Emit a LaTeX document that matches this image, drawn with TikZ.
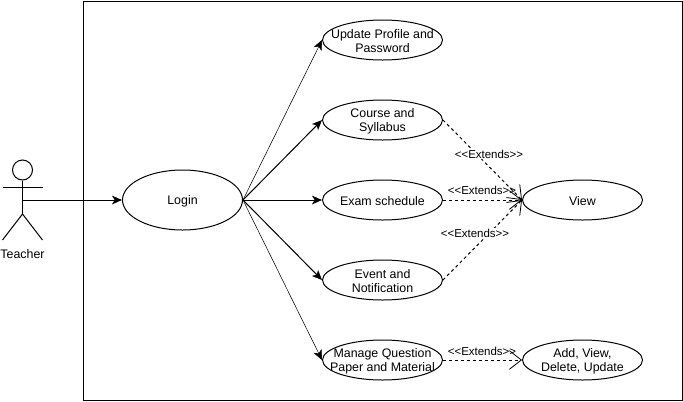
\documentclass[tikz,border=0pt]{standalone}
\usepackage{fontspec}
\setmainfont{Liberation Sans}
\usetikzlibrary{shapes.geometric,arrows.meta}
\tikzset{
  usecase/.style n args={2}{draw,ellipse,line width=0.75pt,minimum width=90pt,minimum height=#1,inner sep=0pt,
    label={[align=center,inner sep=0pt,font=\fontsize{9.3}{10.8}\selectfont,yshift=-1pt]center:#2}},
  assoc/.style={line width=0.75pt,-{Stealth[length=7.5pt,width=6.5pt,inset=2pt]}},
  thinassoc/.style={line width=0.4pt,-{Stealth[length=7.5pt,width=6.5pt,inset=2pt]}},
  ext/.style={line width=0.75pt,dash pattern=on 2.25pt off 2.25pt,-{Straight Barb[length=9pt,width=14pt,line width=0.6pt]}},
  extlabel/.style={fill=white,inner sep=0.5pt,font=\fontsize{8.6}{10}\selectfont},
  actorline/.style={line width=0.75pt}
}
\begin{document}
\begin{tikzpicture}[x=0.75pt,y=-0.75pt]
\useasboundingbox (0,0) rectangle (683,401);
\node[draw,line width=0.75pt,minimum width=449.6pt,minimum height=299.3pt,inner sep=0pt,anchor=north west] (frame) at (82.5,0.5) {};
\node[usecase={45pt}{Login}] (login) at (182.5,200) {};
\node[usecase={30pt}{Update Profile and\\Password}] (update) at (382.5,40) {};
\node[usecase={30pt}{Course and\\Syllabus}] (course) at (382.5,120) {};
\node[usecase={30pt}{Exam schedule}] (exam) at (382.5,200) {};
\node[usecase={30pt}{Event and\\Notification}] (event) at (382.5,280) {};
\node[usecase={30pt}{Manage Question\\Paper and Material}] (manage) at (382.5,360) {};
\node[usecase={30pt}{View}] (view) at (582.5,200) {};
\node[usecase={30pt}{Add, View,\\Delete, Update}] (add) at (582.5,360) {};
% actor
\node[draw,circle,line width=0.75pt,minimum size=15pt,inner sep=0pt] (head) at (22.5,170) {};
\coordinate (hip) at (22.5,214);
\coordinate (hand) at (22.5,200);
\coordinate (armL) at (2.5,187);
\coordinate (armR) at (42.5,187);
\coordinate (legL) at (2.5,240);
\coordinate (legR) at (42.5,240);
\draw[actorline] (head.south) -- (hip);
\draw[actorline] (armL) -- (armR);
\draw[actorline] (legL) -- (hip) -- (legR);
\node[font=\fontsize{9.3}{11}\selectfont,inner sep=0pt] (teacher) at (22.5,254.5) {Teacher};
% connectors
\draw[assoc] (hand) -- (login.west);
\draw[thinassoc] (login.east) -- (update.west);
\draw[assoc] (login.east) -- (course.west);
\draw[assoc] (login.east) -- (exam.west);
\draw[assoc] (login.east) -- (event.west);
\draw[thinassoc] (login.east) -- (manage.west);
\draw[ext] (course.east) -- (view.west);
\draw[ext] (exam.east) -- (view.west);
\draw[ext] (event.east) -- (view.west);
\draw[ext] (manage.east) -- (add.west);
\node[extlabel] (l1) at (489,154) {<{}<Extends>{}>};
\node[extlabel,fill=none] (l2) at (482,190.5) {<{}<Extends>{}>};
\node[extlabel] (l3) at (475,233) {<{}<Extends>{}>};
\node[extlabel,fill=none] (l4) at (482,351) {<{}<Extends>{}>};
\end{tikzpicture}
\end{document}
